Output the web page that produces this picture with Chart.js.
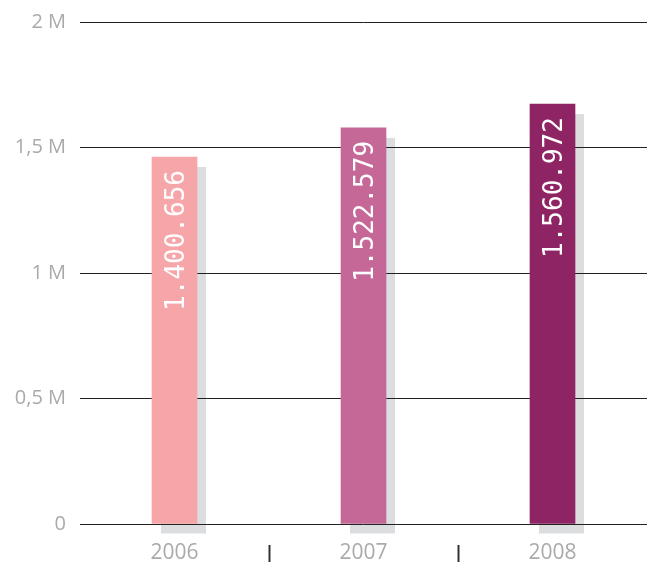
<!DOCTYPE html>
<html>
<head>
<meta charset="utf-8">
<script src="https://cdn.jsdelivr.net/npm/chart.js@4"></script>
<style>
  html, body { margin: 0; padding: 0; background: #fff; }
  #wrap { width: 647px; height: 567px; }
</style>
</head>
<body>
<div id="wrap"><canvas id="chart" width="647" height="567"></canvas></div>
<script>
const years = ["2006", "2007", "2008"];
// bar heights as drawn in the picture
const barValues = [1462000, 1578000, 1673000];
// the numbers printed inside the bars
const barLabels = ["1.400.656", "1.522.579", "1.560.972"];
const barColors = ["#f6a6a9", "#c56898", "#8e2463"];
const yTickLabels = { 0: "0", 500000: "0,5 M", 1000000: "1 M", 1500000: "1,5 M", 2000000: "2 M" };

const shadowPlugin = {
  id: "barShadow",
  beforeDraw(chart) {
    const ctx = chart.ctx;
    const meta = chart.getDatasetMeta(0);
    ctx.save();
    ctx.fillStyle = "#dcdddf";
    meta.data.forEach((bar) => {
      const w = bar.width;
      ctx.fillRect(bar.x - w / 2 + 9, bar.y + 10, w, bar.base - bar.y);
    });
    ctx.restore();
  },
};

const labelPlugin = {
  id: "barLabels",
  afterDatasetsDraw(chart) {
    const ctx = chart.ctx;
    const meta = chart.getDatasetMeta(0);
    ctx.save();
    ctx.fillStyle = "#ffffff";
    ctx.font = "26px 'DejaVu Sans Mono', monospace";
    ctx.textAlign = "right";
    ctx.textBaseline = "middle";
    meta.data.forEach((bar, i) => {
      ctx.save();
      ctx.translate(bar.x + 3, bar.y + 13);
      ctx.rotate(-Math.PI / 2);
      ctx.fillText(barLabels[i], 0, 0);
      ctx.restore();
    });
    ctx.restore();
  },
};

const separatorPlugin = {
  id: "separators",
  afterDraw(chart) {
    const ctx = chart.ctx;
    const xScale = chart.scales.x;
    ctx.save();
    ctx.strokeStyle = "#333333";
    ctx.lineWidth = 2;
    for (let i = 0; i < years.length - 1; i++) {
      const x = Math.round(xScale.getPixelForValue(i + 0.5)) + 0.5;
      ctx.beginPath();
      ctx.moveTo(x, 545);
      ctx.lineTo(x, 562);
      ctx.stroke();
    }
    ctx.restore();
  },
};

new Chart(document.querySelector("#chart"), {
  type: "bar",
  data: {
    labels: years,
    datasets: [{
      data: barValues,
      backgroundColor: barColors,
      borderWidth: 0,
      barThickness: 45,
    }],
  },
  options: {
    responsive: false,
    animation: false,
    layout: { padding: { top: 22, right: 0, left: 0, bottom: 0 } },
    plugins: { legend: { display: false }, tooltip: { enabled: false } },
    scales: {
      x: {
        grid: { display: false, drawTicks: false },
        border: { display: false },
        ticks: {
          color: "#aaaaaa",
          font: { family: "'Open Sans', sans-serif", size: 21 },
          padding: 16,
        },
        afterFit: (scale) => { scale.height = 43; },
      },
      y: {
        min: 0,
        max: 2000000,
        grid: { color: "#222222", lineWidth: 1, drawTicks: false },
        border: { display: false },
        ticks: {
          stepSize: 500000,
          color: "#aaaaaa",
          font: { family: "'Open Sans', sans-serif", size: 20 },
          padding: 14,
          callback: (value) => yTickLabels[value] ?? "",
        },
        afterFit: (scale) => {
          scale.width = 80;
          scale.paddingTop = 0;
          scale.paddingBottom = 0;
        },
      },
    },
  },
  plugins: [shadowPlugin, labelPlugin, separatorPlugin],
});
</script>
</body>
</html>
